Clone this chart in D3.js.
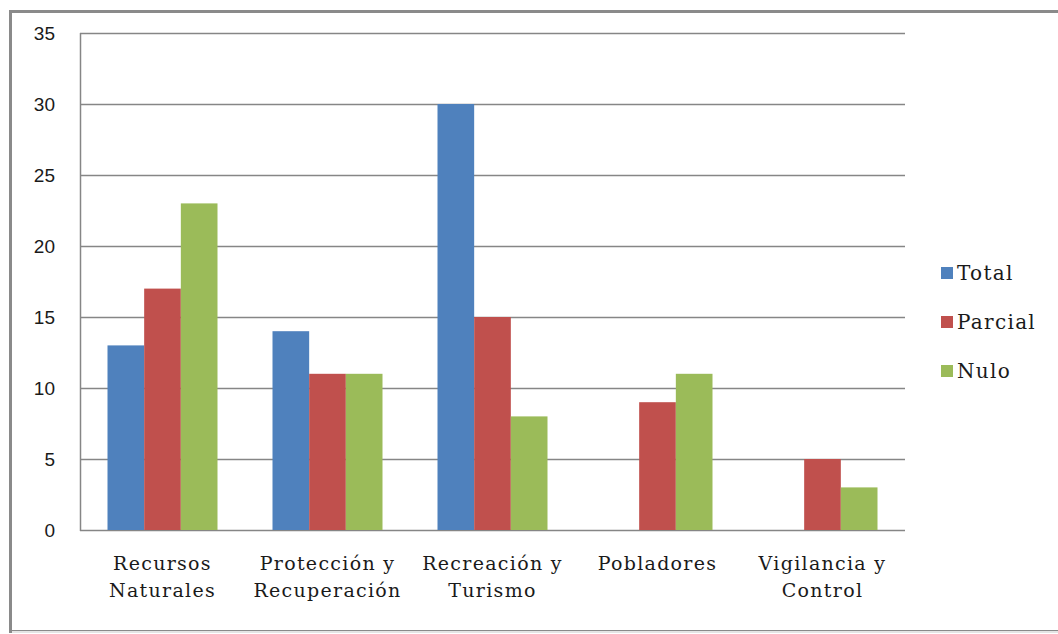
<!DOCTYPE html>
<html><head><meta charset="utf-8">
<script src="https://cdn.jsdelivr.net/npm/d3@7"></script>
<style>body{margin:0;background:#fff}svg{display:block}</style>
</head><body>
<svg id="c" width="1058" height="634"></svg>
<script>
const categories = [["Recursos","Naturales"],["Protección y","Recuperación"],["Recreación y","Turismo"],["Pobladores"],["Vigilancia y","Control"]];
const seriesNames = ["Total","Parcial","Nulo"];
const colors = ["#4f81bd","#c0504d","#9bbb59"];
const total = [13,14,30,null,null];
const parcial = [17,11,15,9,5];
const nulo = [23,11,8,11,3];
const yTicks = [0,5,10,15,20,25,30,35];

(function(){
const series = [total, parcial, nulo];
const svg = d3.select("#c");
// outer frame
svg.append("rect").attr("x",10.5).attr("y",11.5).attr("width",1060).attr("height",620)
  .attr("fill","#fff").attr("stroke","#8a8a8a").attr("stroke-width",3);
svg.append("line").attr("x1",12).attr("x2",1058).attr("y1",632).attr("y2",632).attr("stroke","#e4e4e4").attr("stroke-width",2);

const pl=80, pr=905, pt=33, pb=530;
const x = d3.scaleBand().domain(d3.range(categories.length)).range([pl,pr]).padding(0);
const bw = x.bandwidth();
const xi = d3.scaleBand().domain(d3.range(3)).range([bw*0.75/4.5, bw - bw*0.75/4.5]).padding(0);
const y = d3.scaleLinear().domain([0,35]).range([pb,pt]);

// grid
svg.append("g").selectAll("line").data(yTicks).join("line")
  .attr("x1",pl).attr("x2",pr).attr("y1",d=>Math.round(y(d))+0.5).attr("y2",d=>Math.round(y(d))+0.5)
  .attr("stroke","#868686").attr("stroke-width",1.5);
svg.append("line").attr("x1",pl+0.5).attr("x2",pl+0.5).attr("y1",pt).attr("y2",pb+1)
  .attr("stroke","#868686").attr("stroke-width",1.5);

// y labels
svg.append("g").selectAll("text").data(yTicks).join("text")
  .attr("x",55).attr("y",d=>y(d)).attr("dy","0.35em").attr("text-anchor","end")
  .attr("font-family","Liberation Sans, Arial, sans-serif").attr("font-size",19).attr("fill","#1a1a1a")
  .text(d=>d);

// bars
series.forEach((s,si)=>{
  svg.append("g").selectAll("rect").data(s.map((v,i)=>({v,i})).filter(d=>d.v!=null)).join("rect")
    .attr("x",d=>x(d.i)+xi(si)).attr("width",xi.bandwidth())
    .attr("y",d=>y(d.v)).attr("height",d=>y(0)-y(d.v)).attr("fill",colors[si]);
});

// category labels
const cl = svg.append("g").attr("font-family","DejaVu Serif, serif").attr("font-size",19)
  .attr("letter-spacing",1.3).attr("fill","#1a1a1a");
categories.forEach((lines,i)=>{
  lines.forEach((t,j)=>{
    cl.append("text").attr("x",x(i)+bw/2).attr("y",570+j*27).attr("text-anchor","middle").text(t);
  });
});

// legend
const lg = svg.append("g").attr("font-family","DejaVu Serif, serif").attr("font-size",20)
  .attr("letter-spacing",1.3).attr("fill","#1a1a1a");
seriesNames.forEach((n,i)=>{
  const cy = 273 + i*49;
  lg.append("rect").attr("x",941).attr("y",cy-6).attr("width",12).attr("height",12).attr("fill",colors[i]);
  lg.append("text").attr("x",957).attr("y",cy).attr("dy","0.35em").text(n);
});
})();
</script>
</body></html>
